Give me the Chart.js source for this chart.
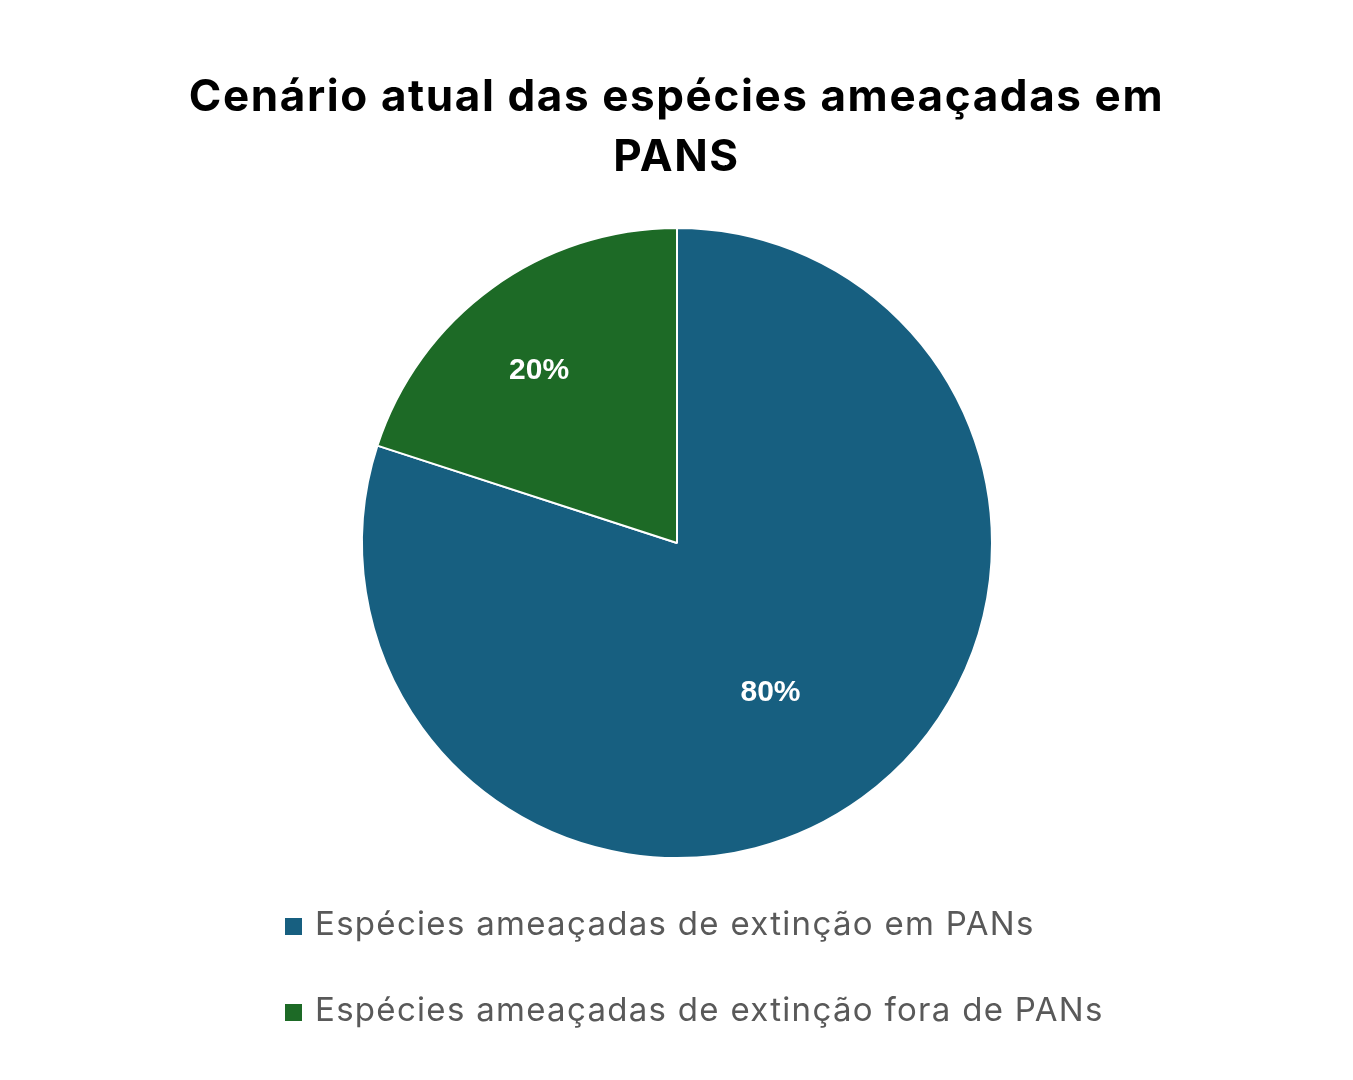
<!DOCTYPE html>
<html>
<head>
<meta charset="utf-8">
<script src="https://cdn.jsdelivr.net/npm/chart.js@4.4.1/dist/chart.umd.min.js"></script>
<style>
  body { margin: 0; background: #fff; }
  #wrap { position: relative; width: 1353px; height: 1080px; }
  #titulo {
    position: absolute; left: 0; top: 65px; width: 1353px;
    text-align: center; font-family: Inter, sans-serif; font-weight: bold;
    font-size: 44px; letter-spacing: 1.6px; line-height: 60px; color: #000;
  }
  #legenda {
    position: absolute; left: 285px; top: 903px;
    font-family: Inter, sans-serif; font-size: 33px; letter-spacing: 1.3px; color: #595959;
  }
  .item { height: 86px; display: flex; align-items: flex-start; }
  .cor { width: 17px; height: 17px; margin: 15px 13px 0 0; }
</style>
</head>
<body>
<div id="wrap">
  <canvas id="pie" width="1353" height="1080"></canvas>
  <div id="titulo">Cenário atual das espécies ameaçadas em<br>PANS</div>
  <div id="legenda"></div>
</div>
<script>
const categorias = ["Espécies ameaçadas de extinção em PANs", "Espécies ameaçadas de extinção fora de PANs"];
const valores = [80, 20];
const rotulos = ["80%", "20%"];
const cores = ["#175f80", "#1d6a26"];

// rotulos dentro das fatias
const labelPlugin = {
    id: "labels",
    afterDatasetsDraw(chart, args, opts) {
        const ctx = chart.ctx;
        const arcs = chart.getDatasetMeta(0).data;
        ctx.save();
        ctx.fillStyle = "#fff";
        ctx.font = "bold 30px 'Liberation Sans', Arial, sans-serif";
        ctx.textAlign = "center";
        ctx.textBaseline = "middle";
        arcs.forEach((a, i) => {
            const ang = (a.startAngle + a.endAngle) / 2 + opts.shift[i] * Math.PI / 180;
            const r = a.outerRadius * opts.dist[i];
            ctx.fillText(rotulos[i], a.x + Math.cos(ang) * r, a.y + Math.sin(ang) * r);
        });
        ctx.restore();
    }
};

new Chart(document.getElementById("pie"), {
    type: "pie",
    data: {
        labels: categorias,
        datasets: [{
            data: valores,
            backgroundColor: cores,
            borderColor: "#fff",
            borderWidth: 2
        }]
    },
    options: {
        responsive: false,
        animation: false,
        layout: { padding: { top: 226, bottom: 220, left: 361, right: 360 } },
        plugins: {
            legend: { display: false },
            tooltip: { enabled: false },
            labels: { dist: [0.56, 0.7], shift: [4, -2.7] }
        }
    },
    plugins: [labelPlugin]
});

let leg = document.getElementById("legenda");
for (let i = 0; i < categorias.length; ++i) {
    let d = document.createElement("div");
    d.className = "item";
    d.innerHTML = `<div class="cor" style="background:${cores[i]}"></div><span>${categorias[i]}</span>`;
    leg.appendChild(d);
}
</script>
</body>
</html>
